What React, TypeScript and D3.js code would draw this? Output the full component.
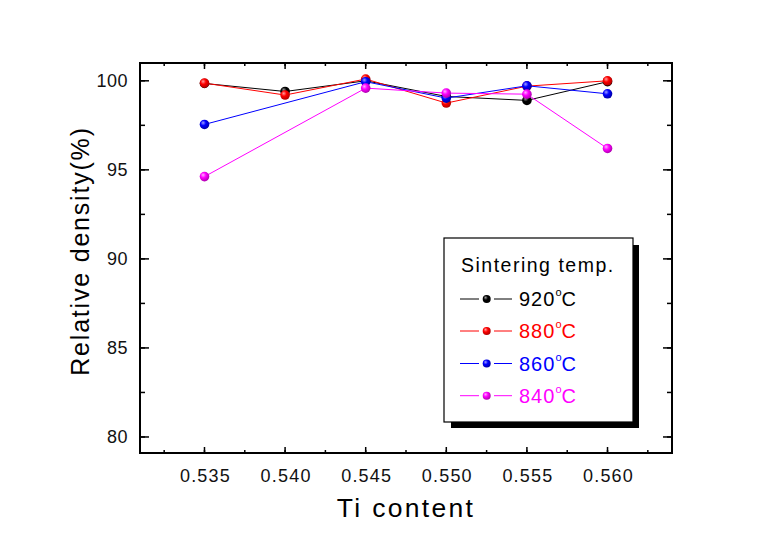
import React from "react";
import * as d3 from "d3";

const tiContent = [0.535, 0.54, 0.545, 0.55, 0.555, 0.56];
const s920 = [99.85, 99.4, 100.0, 99.12, 98.9, 99.95];
const s880 = [99.87, 99.2, 100.1, 98.75, 99.7, 100.0];
const s860 = [97.55, null, 99.95, 99.03, 99.72, 99.27];
const s840 = [94.62, null, 99.59, 99.31, 99.25, 96.2];
const seriesNames = ["920", "880", "860", "840"];
const seriesColors = ["#000000", "#ff0000", "#0000ff", "#ff00ff"];
const seriesLight = ["#9a9a9a", "#ffa0a0", "#a0a0ff", "#ffb0ff"];
const seriesDark = ["#000000", "#b00000", "#0000a8", "#b000b0"];
const xMajorTicks = [0.535, 0.54, 0.545, 0.55, 0.555, 0.56];
const yMajorTicks = [80, 85, 90, 95, 100];

const W = 780, H = 546;
const L = 140, R = 672, T = 63, B = 453;

export default function App() {
  const x = d3.scaleLinear().domain([0.531, 0.564]).range([L, R]);
  const y = d3.scaleLinear().domain([79.1, 101]).range([B, T]);
  const allSeries = [s920, s880, s860, s840];
  const xMinor = d3.range(0, 14).map((i) => 0.5325 + i * 0.0025).filter((v) => v > 0.531 && v < 0.564);
  const yMinor = d3.range(0, 9).map((i) => 80 + i * 2.5);
  const line = d3
    .line<[number, number]>()
    .x((d) => x(d[0]))
    .y((d) => y(d[1]));
  const font = "'Liberation Sans', Arial, sans-serif";
  const legendRows = [299, 331, 363.5, 395.7];

  return (
    <svg width={W} height={H} style={{ position: "absolute", left: 0, top: 0, background: "#fff" }} fontFamily={font}>
      <defs>
        {seriesColors.map((c, i) => (
          <radialGradient key={i} id={"g" + i} cx="40%" cy="38%" r="62%" fx="35%" fy="32%">
            <stop offset="0%" stopColor={seriesLight[i]} />
            <stop offset="45%" stopColor={c} />
            <stop offset="100%" stopColor={seriesDark[i]} />
          </radialGradient>
        ))}
      </defs>
      <rect x={0} y={0} width={W} height={H} fill="#fff" />
      {xMinor.map((v, i) => (
        <g key={"xm" + i} stroke="#000" strokeWidth={1.5}>
          <line x1={x(v)} x2={x(v)} y1={B} y2={B - 3} />
          <line x1={x(v)} x2={x(v)} y1={T} y2={T + 3} />
        </g>
      ))}
      {xMajorTicks.map((v, i) => (
        <g key={"xM" + i} stroke="#000" strokeWidth={1.5}>
          <line x1={x(v)} x2={x(v)} y1={B} y2={B - 6} />
          <line x1={x(v)} x2={x(v)} y1={T} y2={T + 6} />
        </g>
      ))}
      {yMinor.map((v, i) => (
        <g key={"ym" + i} stroke="#000" strokeWidth={1.5}>
          <line x1={L} x2={L + 5} y1={y(v)} y2={y(v)} />
          <line x1={R} x2={R - 5} y1={y(v)} y2={y(v)} />
        </g>
      ))}
      {yMajorTicks.map((v, i) => (
        <g key={"yM" + i} stroke="#000" strokeWidth={1.5}>
          <line x1={L} x2={L + 9} y1={y(v)} y2={y(v)} />
          <line x1={R} x2={R - 9} y1={y(v)} y2={y(v)} />
        </g>
      ))}
      <rect x={L} y={T} width={R - L} height={B - T} fill="none" stroke="#000" strokeWidth={2} />
      {xMajorTicks.map((v, i) => (
        <text key={"xl" + i} x={x(v) + 1} y={482} textAnchor="middle" fontSize={18} letterSpacing={1.2} fill="#111">
          {v.toFixed(3)}
        </text>
      ))}
      {yMajorTicks.map((v, i) => (
        <text key={"yl" + i} x={128} y={y(v)} dy="0.36em" textAnchor="end" fontSize={18} letterSpacing={0.5} fill="#111">
          {v}
        </text>
      ))}
      <text x={406} y={517} textAnchor="middle" fontSize={26.5} letterSpacing={2.3} fill="#000">
        Ti content
      </text>
      <text
        transform={`translate(89,251) rotate(-90)`}
        textAnchor="middle"
        fontSize={25}
        letterSpacing={1.8}
        fill="#000"
      >
        Relative density(%)
      </text>
      {allSeries.map((s, si) => {
        const pts = tiContent
          .map((t, i) => [t, s[i]] as [number, number | null])
          .filter((p) => p[1] !== null) as [number, number][];
        return (
          <g key={"s" + si}>
            <path d={line(pts) || ""} fill="none" stroke={seriesColors[si]} strokeWidth={1} />
            {pts.map((p, i) => (
              <circle key={i} cx={x(p[0])} cy={y(p[1])} r={4.8} fill={`url(#g${si})`} />
            ))}
          </g>
        );
      })}
      <rect x={451} y={245} width={188} height={183} fill="#000" />
      <rect x={444} y={238} width={189} height={184} fill="#fff" stroke="#000" strokeWidth={1.2} />
      <text x={461} y={272} fontSize={19.5} letterSpacing={1.5} fill="#000">
        Sintering temp.
      </text>
      {seriesNames.map((n, i) => (
        <g key={"lg" + i}>
          <line x1={460} x2={479} y1={legendRows[i]} y2={legendRows[i]} stroke={seriesColors[i]} strokeWidth={1} />
          <line x1={494} x2={512} y1={legendRows[i]} y2={legendRows[i]} stroke={seriesColors[i]} strokeWidth={1} />
          <circle cx={486.7} cy={legendRows[i]} r={4} fill={`url(#g${i})`} />
          <text x={519} y={legendRows[i] + 7} fontSize={20} letterSpacing={1} fill={seriesColors[i]}>
            {n}
            <tspan fontSize={11} dy={-10} letterSpacing={0}>o</tspan>
            <tspan dy={10}>C</tspan>
          </text>
        </g>
      ))}
    </svg>
  );
}
